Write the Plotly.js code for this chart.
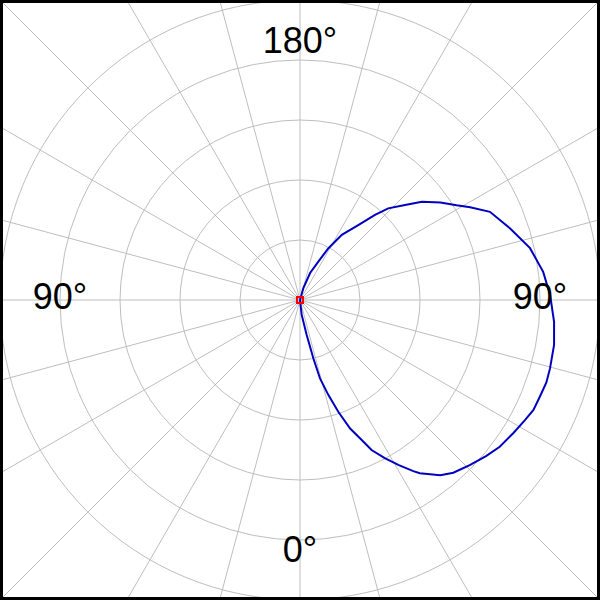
<!DOCTYPE html>
<html>
<head>
<meta charset="utf-8">
<script src="https://cdn.plot.ly/plotly-3.0.1.min.js"></script>
<style>
  html, body { margin: 0; padding: 0; background: #fff; }
  #frame { position: relative; width: 600px; height: 600px; box-sizing: border-box;
           border: 3px solid #000; overflow: hidden; background: #fff; }
  #plot { position: absolute; left: -128px; top: -128px; width: 850px; height: 850px; }
</style>
</head>
<body>
<div id="frame"><div id="plot"></div></div>
<script>
// Angle measured from bottom (0°) through right (90°) to top (180°)
const thetaDeg = [0, 6.5, 10.8, 12.9, 14.3, 16.6, 18.9, 21.3, 23.8, 25.5, 28.2, 30.8, 33.5, 34.7,
                  38.7, 41.6, 45.9, 50.1, 53.7, 58.0, 61.9, 64.8, 68.1, 71.5, 74.7, 80.0, 85.1,
                  91.1, 96.6, 102.7, 108.8, 114.9, 118.6, 121.2, 124.8, 128.9, 132.1, 136.1, 138.6,
                  142.1, 147.3, 151.3, 154.5, 159.5, 164.2, 168];
const radius   = [0, 0.25, 0.59, 1.00, 1.35, 1.65, 1.97, 2.30, 2.55, 2.77, 2.99, 3.20, 3.42, 3.51,
                  3.74, 3.85, 3.95, 4.05, 4.13, 4.19, 4.25, 4.30, 4.31, 4.33, 4.32, 4.30, 4.25,
                  4.17, 4.08, 3.93, 3.70, 3.49, 3.23, 3.05, 2.85, 2.61, 2.36, 2.12, 1.89,
                  1.58, 1.29, 0.98, 0.71, 0.48, 0.20, 0];
const ringVals = [1, 2, 3, 4, 5];
const labelText  = ["180°", "0°", "90°", "90°"];
const labelTheta = [180, 0, 90, 270];

const traces = [
  {
    type: 'scatterpolar', mode: 'lines',
    r: radius, theta: thetaDeg,
    line: { color: '#0000C0', width: 2 },
    hoverinfo: 'skip'
  },
  {
    type: 'scatterpolar', mode: 'markers',
    r: [0], theta: [0],
    marker: { symbol: 'square-open', color: '#FF0000', size: 6, line: { width: 2, color: '#FF0000' } },
    hoverinfo: 'skip'
  },
  {
    type: 'scatterpolar', mode: 'text',
    r: [4.27, 4.22, 4.0, 4.0], theta: labelTheta, text: labelText,
    textfont: { family: 'Liberation Sans, Arial, sans-serif', size: 36, color: '#000' },
    textposition: 'middle center',
    hoverinfo: 'skip'
  }
];

const layout = {
  width: 850, height: 850,
  margin: { l: 0, r: 0, t: 0, b: 0, pad: 0 },
  paper_bgcolor: '#fff',
  showlegend: false,
  polar: {
    domain: { x: [0, 1], y: [0, 1] },
    bgcolor: '#fff',
    radialaxis: {
      range: [0, 425 / 60],
      tickvals: ringVals,
      showticklabels: false, ticks: '',
      showline: false,
      gridcolor: '#BEBEBE', gridwidth: 1
    },
    angularaxis: {
      rotation: -90, direction: 'counterclockwise',
      tickmode: 'linear', tick0: 0, dtick: 15,
      showticklabels: false, ticks: '',
      showline: false,
      gridcolor: '#BEBEBE', gridwidth: 1
    }
  }
};

Plotly.newPlot('plot', traces, layout, { staticPlot: true, displayModeBar: false });
</script>
</body>
</html>
